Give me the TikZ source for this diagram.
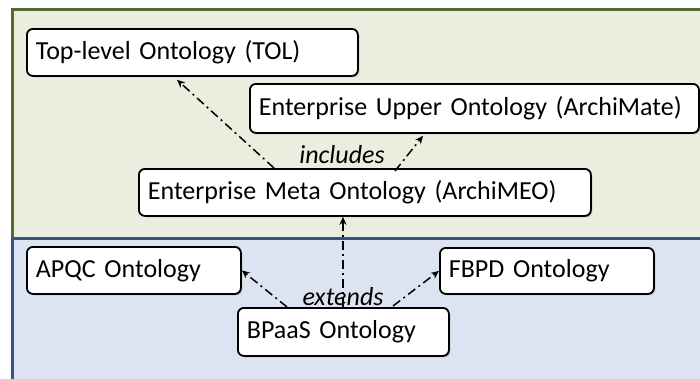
\documentclass[tikz,border=0pt]{standalone}
\usepackage{fontspec}
\setmainfont{Carlito}
\usetikzlibrary{arrows.meta,shadows,calc}
\definecolor{gfill}{HTML}{EBEDDE}
\definecolor{gline}{HTML}{556B2A}
\definecolor{bfill}{HTML}{DBE4F0}
\definecolor{bline}{HTML}{35557F}
\tikzset{
  onto/.style={draw=black, fill=white, line width=1.8pt, rounded corners=6pt,
    anchor=north west, inner xsep=9pt, inner ysep=0pt, align=left,
    font=\fontsize{26}{30}\selectfont,
    drop shadow={shadow xshift=1.5pt, shadow yshift=-1.5pt, fill=black!35, opacity=0.6}},
  conn/.style={line width=1.5pt, dash pattern=on 9pt off 4pt on 2pt off 4pt,
    -{Stealth[length=8pt,width=7pt]}},
  lbl/.style={font=\fontsize{26}{30}\selectfont\itshape, inner sep=0pt}
}
\begin{document}
\begin{tikzpicture}[x=1pt,y=-1pt]
\useasboundingbox (0,0) rectangle (700,378);
\begin{scope}
\clip (0,0) rectangle (700,378);
\draw[fill=gfill, draw=gline, line width=3pt] (12,9) rectangle (720,238);
\draw[fill=bfill, draw=bline, line width=3pt] (12,238) rectangle (720,400);
\end{scope}
\node[onto, text width=313pt, minimum height=47pt] (tol) at (26,28) {Top-level Ontology (TOL)};
\node[onto, text width=431pt, minimum height=49pt] (upper) at (249,83) {Enterprise Upper Ontology (ArchiMate)};
\node[onto, text width=434pt, minimum height=47pt] (meo) at (138,168) {Enterprise Meta Ontology (ArchiMEO)};
\node[onto, text width=196pt, minimum height=47pt] (apqc) at (26,246) {APQC Ontology};
\node[onto, text width=196pt, minimum height=46pt] (fbpd) at (439,247) {FBPD Ontology};
\node[onto, text width=193pt, minimum height=48pt] (bpaas) at (237,307) {BPaaS Ontology};
\draw[conn] ([xshift=136pt]meo.north west) -- ([xshift=151pt,yshift=-3pt]tol.south west);
\draw[conn] ([xshift=257pt,yshift=-3pt]meo.north west) -- ([xshift=174pt,yshift=-2pt]upper.south west);
\draw[conn] ([xshift=106pt]bpaas.north west) -- ([xshift=106pt]bpaas.north west |- meo.south);
\draw[conn] ([xshift=50pt]bpaas.north west) -- (apqc.east);
\draw[conn] ([xshift=156pt,yshift=1pt]bpaas.north west) -- (fbpd.west);
\node[lbl] (inc) at (342,155) {includes};
\node[lbl] (ext) at (343,297) {extends};
\end{tikzpicture}
\end{document}
